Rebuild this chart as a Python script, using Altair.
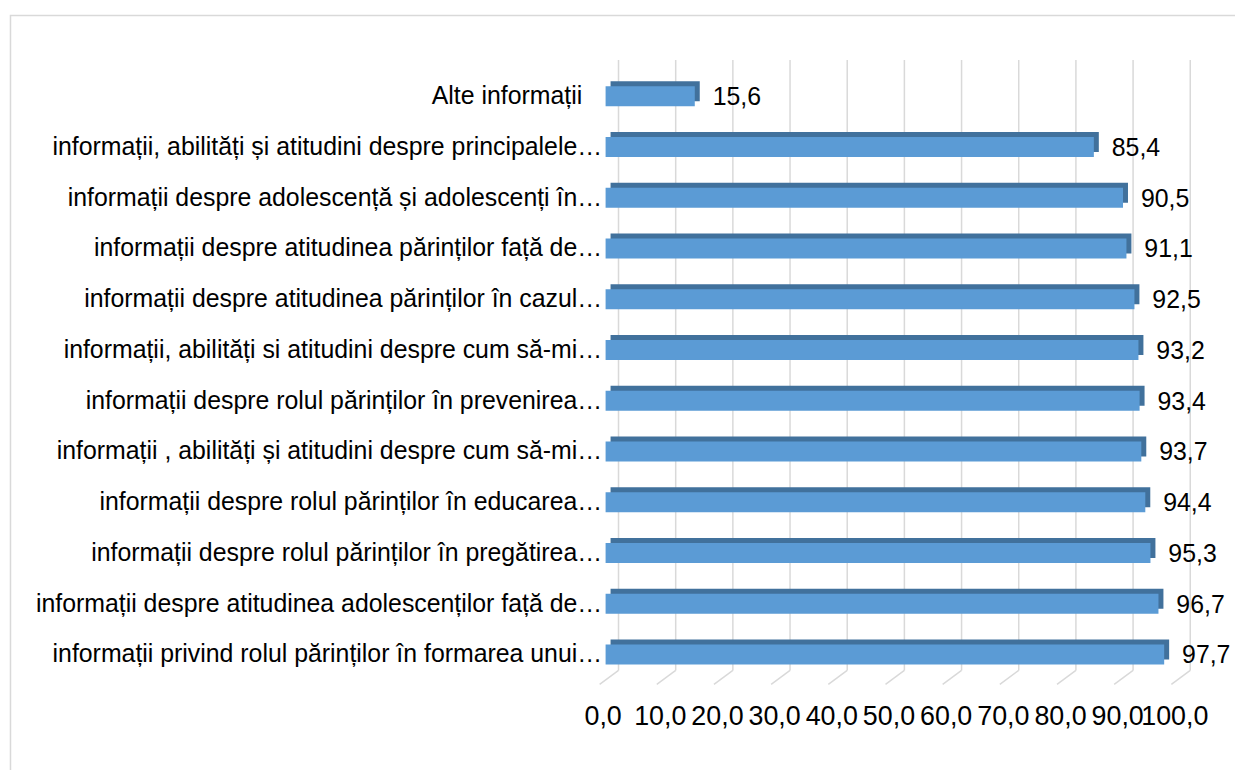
import altair as alt
import pandas as pd

categories = [
    "Alte informații",
    "informații, abilități și atitudini despre principalele…",
    "informații despre adolescență și adolescenți în…",
    "informații despre atitudinea părinților față de…",
    "informații despre atitudinea părinților în cazul…",
    "informații, abilități si atitudini despre cum să-mi…",
    "informații despre rolul părinților în prevenirea…",
    "informații , abilități și atitudini despre cum să-mi…",
    "informații despre rolul părinților în educarea…",
    "informații despre rolul părinților în pregătirea…",
    "informații despre atitudinea adolescenților față de…",
    "informații privind rolul părinților în formarea unui…",
]
values = [15.6, 85.4, 90.5, 91.1, 92.5, 93.2, 93.4, 93.7, 94.4, 95.3, 96.7, 97.7]
ticks = [0, 10, 20, 30, 40, 50, 60, 70, 80, 90, 100]

df = pd.DataFrame({"cat": categories, "val": values})
df["lbl"] = [f"{v:.1f}".replace(".", ",") for v in values]
tick_df = pd.DataFrame({"t": ticks})

FONT = "Liberation Sans"
W = 575
H = 612.5

xs = alt.Scale(domain=[0, 100], nice=False, zero=True)
ys = alt.Scale(domain=categories, paddingInner=0.608, paddingOuter=0.304)

xa = alt.Axis(
    title=None,
    values=ticks,
    ticks=False,
    domain=False,
    grid=False,
    labelExpr="replace(format(datum.value, '.1f'), '.', ',')",
    labelFont=FONT,
    labelFontSize=27,
    labelColor="#000000",
    labelOffset=-3,
    labelBaseline="alphabetic",
    labelPadding=45,
    labelFlush=False,
    labelOverlap=False,
)
ya = alt.Axis(
    title=None,
    ticks=False,
    domain=False,
    grid=False,
    labelPadding={"condition": {"test": "indexof(datum.value, 'Alte') == 0", "value": 24}, "value": 4},
    labelFont=FONT,
    labelFontSize=25,
    labelColor="#000000",
    labelLimit=800,
)

frame = alt.Chart(pd.DataFrame({"k": [0]})).mark_rect(
    fill="transparent", stroke="#d9d9d9", strokeWidth=1.5
).encode(
    x=alt.value(-598.5), x2=alt.value(720), y=alt.value(-55.6), y2=alt.value(820)
)

grid = alt.Chart(tick_df).mark_rule(
    color="#d9d9d9", strokeWidth=1.5, xOffset=13
).encode(
    x=alt.X("t:Q", scale=xs, axis=xa),
    y=alt.value(-11),
    y2=alt.value(603),
)

diag = alt.Chart(tick_df).mark_rule(
    color="#d9d9d9", strokeWidth=1.5, xOffset=13, x2Offset=-6
).encode(
    x=alt.X("t:Q", scale=xs, axis=xa),
    x2=alt.X2("t"),
    y=alt.value(603),
    y2=alt.value(617),
)

back = alt.Chart(df).mark_bar(
    color="#41719c", xOffset=5, x2Offset=5, yOffset=-5, y2Offset=-5
).encode(
    x=alt.X("val:Q", scale=xs, axis=xa),
    y=alt.Y("cat:N", scale=ys, sort=categories, axis=ya),
)

front = alt.Chart(df).mark_bar(color="#5b9bd5").encode(
    x=alt.X("val:Q", scale=xs, axis=xa),
    y=alt.Y("cat:N", scale=ys, sort=categories, axis=ya),
)

labels = alt.Chart(df).mark_text(
    align="left", baseline="middle", dx=18, dy=1, fontSize=25, font=FONT, color="#000000"
).encode(
    x=alt.X("val:Q", scale=xs, axis=xa),
    y=alt.Y("cat:N", scale=ys, sort=categories, axis=ya),
    text="lbl:N",
)

chart = alt.layer(frame, grid, diag, back, front, labels).properties(
    width=W,
    height=H,
    padding={"left": 601, "top": 61, "right": 58, "bottom": 88.5},
    autosize=alt.AutoSizeParams(type="none"),
    background="white",
).configure_view(stroke="transparent")

chart.save("out.html", embed_options={"renderer": "svg", "actions": False})
